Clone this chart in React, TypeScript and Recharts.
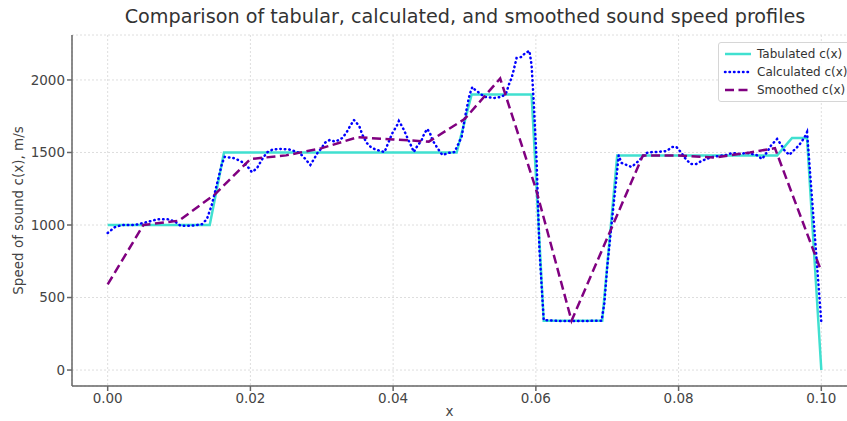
import { CartesianGrid, Label, Line, LineChart, XAxis, YAxis } from 'recharts';

// tabulated profile (piecewise constant layers)
const TAB_X = [0, 0.0143, 0.0163, 0.0489, 0.051, 0.0594, 0.0611, 0.0693, 0.0714, 0.0938, 0.0959, 0.098, 0.1];
const TAB_C = [1000, 1000, 1500, 1500, 1900, 1900, 340, 340, 1480, 1480, 1600, 1600, 0];

// calculated profile (noisy reconstruction)
const CALC_X = [
  0, 0.001, 0.002, 0.0038, 0.0055, 0.007, 0.0084, 0.0094, 0.0102, 0.0118, 0.0132, 0.0139, 0.0146, 0.0154,
  0.016, 0.0164, 0.0178, 0.0188, 0.0195, 0.0202, 0.0209, 0.0216, 0.0223, 0.0231, 0.0244, 0.0255, 0.0269,
  0.0277, 0.0284, 0.029, 0.0294, 0.03, 0.0304, 0.0311, 0.0319, 0.0329, 0.0335, 0.0339, 0.0345, 0.0349,
  0.0353, 0.0357, 0.0363, 0.037, 0.0378, 0.0388, 0.0392, 0.0399, 0.0405, 0.0408, 0.0413, 0.0417, 0.0422,
  0.0426, 0.0429, 0.0433, 0.044, 0.0444, 0.0448, 0.0452, 0.0455, 0.0462, 0.0469, 0.0478, 0.0486, 0.0492,
  0.0496, 0.05, 0.0503, 0.0507, 0.0511, 0.0515, 0.0521, 0.0528, 0.0542, 0.0553, 0.0559, 0.0562, 0.0566,
  0.0569, 0.0573, 0.058, 0.0585, 0.0591, 0.0594, 0.0597, 0.0601, 0.0605, 0.0611, 0.0633, 0.0661, 0.0692,
  0.0696, 0.07, 0.0707, 0.0713, 0.0716, 0.072, 0.0727, 0.0734, 0.0741, 0.0748, 0.0755, 0.0763, 0.0773,
  0.0783, 0.0791, 0.0797, 0.0804, 0.081, 0.0817, 0.0825, 0.0832, 0.0839, 0.0847, 0.0857, 0.0867, 0.0875,
  0.0885, 0.0896, 0.0909, 0.0917, 0.0924, 0.093, 0.0934, 0.0938, 0.0944, 0.0948, 0.0955, 0.0959, 0.0965,
  0.0969, 0.0976, 0.098, 0.1
];
const CALC_C = [
  945, 985, 1000, 1000, 1020, 1040, 1040, 1025, 995, 995, 1005, 1040, 1140, 1300,
  1420, 1470, 1460, 1435, 1410, 1365, 1390, 1450, 1500, 1520, 1525, 1520, 1497,
  1455, 1414, 1462, 1497, 1531, 1566, 1586, 1575, 1600, 1641, 1676, 1724, 1703,
  1676, 1621, 1566, 1531, 1517, 1503, 1552, 1634, 1683, 1717, 1676, 1634, 1579,
  1538, 1503, 1538, 1586, 1634, 1662, 1628, 1586, 1531, 1483, 1497, 1503, 1566,
  1607, 1724, 1800, 1897, 1952, 1931, 1910, 1883, 1876, 1885, 1917, 1966, 2014,
  2069, 2152, 2159, 2186, 2200, 2103, 1848, 1450, 830, 345, 338, 338, 340,
  460, 710, 1050, 1330, 1480, 1428, 1414, 1400, 1428, 1462, 1497, 1503, 1505,
  1510, 1538, 1538, 1497, 1455, 1421, 1421, 1441, 1455, 1469, 1476, 1483, 1497,
  1490, 1497, 1483, 1455, 1503, 1552, 1572, 1593, 1552, 1517, 1483, 1503, 1531,
  1552, 1600, 1640, 330
];

// smoothed profile
const SMOOTH_X = [0, 0.005, 0.01, 0.015, 0.02, 0.025, 0.03, 0.035, 0.04, 0.045, 0.05, 0.055, 0.06, 0.065, 0.07, 0.075, 0.08, 0.085, 0.09, 0.0935, 0.1];
const SMOOTH_C = [590, 1000, 1030, 1210, 1455, 1480, 1530, 1605, 1590, 1575, 1730, 2010, 1250, 340, 910, 1480, 1480, 1465, 1500, 1530, 680];

const X_TICKS = [0, 0.02, 0.04, 0.06, 0.08, 0.1];
const Y_TICKS = [0, 500, 1000, 1500, 2000];

const tabulated = TAB_X.map((x, i) => ({ x, c: TAB_C[i] }));
const calculated = CALC_X.map((x, i) => ({ x, c: CALC_C[i] }));
const smoothed = SMOOTH_X.map((x, i) => ({ x, c: SMOOTH_C[i] }));

const FONT = '"DejaVu Sans", sans-serif';

const SERIES = [
  { name: 'Tabulated c(x)', color: '#40E0D0', dash: undefined, cap: 'butt' },
  { name: 'Calculated c(x)', color: '#0000FF', dash: '0.5 4', cap: 'round' },
  { name: 'Smoothed c(x)', color: '#800080', dash: '9 4.5', cap: 'butt' },
];

function LegendBox() {
  return (
    <div
      style={{
        position: 'absolute',
        left: 718,
        top: 42,
        border: '1px solid #d6d6d6',
        borderRadius: 3,
        background: 'rgba(255,255,255,0.85)',
        padding: '2px 20px 2px 3px',
        fontFamily: FONT,
        fontSize: 12,
        color: '#333',
        zIndex: 2,
      }}
    >
      {SERIES.map((s) => (
        <div key={s.name} style={{ display: 'flex', alignItems: 'center', height: 18 }}>
          <svg width={35} height={10}>
            <line
              x1={3}
              x2={29}
              y1={5}
              y2={5}
              stroke={s.color}
              strokeWidth={2.5}
              strokeDasharray={s.dash}
              strokeLinecap={s.cap as any}
            />
          </svg>
          <span style={{ whiteSpace: 'nowrap' }}>{s.name}</span>
        </div>
      ))}
    </div>
  );
}

function YLabel(props: any) {
  const vb = props.viewBox || { y: 35, height: 351 };
  const cy = vb.y + vb.height / 2;
  return (
    <text
      x={18}
      y={cy}
      transform={`rotate(-90, 18, ${cy})`}
      textAnchor="middle"
      dominantBaseline="central"
      fill="#444"
      fontSize={13.5}
      fontFamily={FONT}
    >
      Speed of sound c(x), m/s
    </text>
  );
}

export default function App() {
  return (
    <div
      style={{
        position: 'absolute',
        left: 0,
        top: 0,
        width: 847,
        height: 421,
        overflow: 'hidden',
        background: '#fff',
      }}
    >
      <div
        style={{
          position: 'absolute',
          top: 5,
          left: 0,
          width: 930,
          textAlign: 'center',
          fontFamily: FONT,
          fontSize: 19.2,
          color: '#333',
        }}
      >
        Comparison of tabular, calculated, and smoothed sound speed profiles
      </div>
      <LegendBox />
      <LineChart width={870} height={421} margin={{ top: 35, right: 13, bottom: 0, left: 12 }}>
        <CartesianGrid stroke="#dedede" strokeDasharray="2 2" />
        <XAxis
          dataKey="x"
          type="number"
          domain={[-0.005, 0.105]}
          ticks={X_TICKS}
          tickFormatter={(v: number) => v.toFixed(2)}
          allowDataOverflow
          height={35}
          stroke="#666"
          strokeWidth={1.5}
          tickSize={5}
          tick={{ fill: '#444', fontSize: 13.5, fontFamily: FONT }}
        >
          <Label value="x" position="insideBottom" offset={5} dx={-15} fill="#444" fontSize={13.5} fontFamily={FONT} />
        </XAxis>
        <YAxis
          type="number"
          domain={[-110, 2310]}
          ticks={Y_TICKS}
          allowDataOverflow
          width={60}
          stroke="#666"
          strokeWidth={1.5}
          tickSize={5}
          tick={{ fill: '#444', fontSize: 13.5, fontFamily: FONT }}
          label={<YLabel />}
        />
        <Line
          data={tabulated}
          dataKey="c"
          name="Tabulated c(x)"
          type="linear"
          stroke="#40E0D0"
          strokeWidth={2.5}
          dot={false}
          activeDot={false}
          isAnimationActive={false}
        />
        <Line
          data={calculated}
          dataKey="c"
          name="Calculated c(x)"
          type="linear"
          stroke="#0000FF"
          strokeWidth={2.5}
          strokeDasharray="0.5 4"
          strokeLinecap="round"
          dot={false}
          activeDot={false}
          isAnimationActive={false}
        />
        <Line
          data={smoothed}
          dataKey="c"
          name="Smoothed c(x)"
          type="linear"
          stroke="#800080"
          strokeWidth={2.5}
          strokeDasharray="9 4.5"
          dot={false}
          activeDot={false}
          isAnimationActive={false}
        />
      </LineChart>
    </div>
  );
}
